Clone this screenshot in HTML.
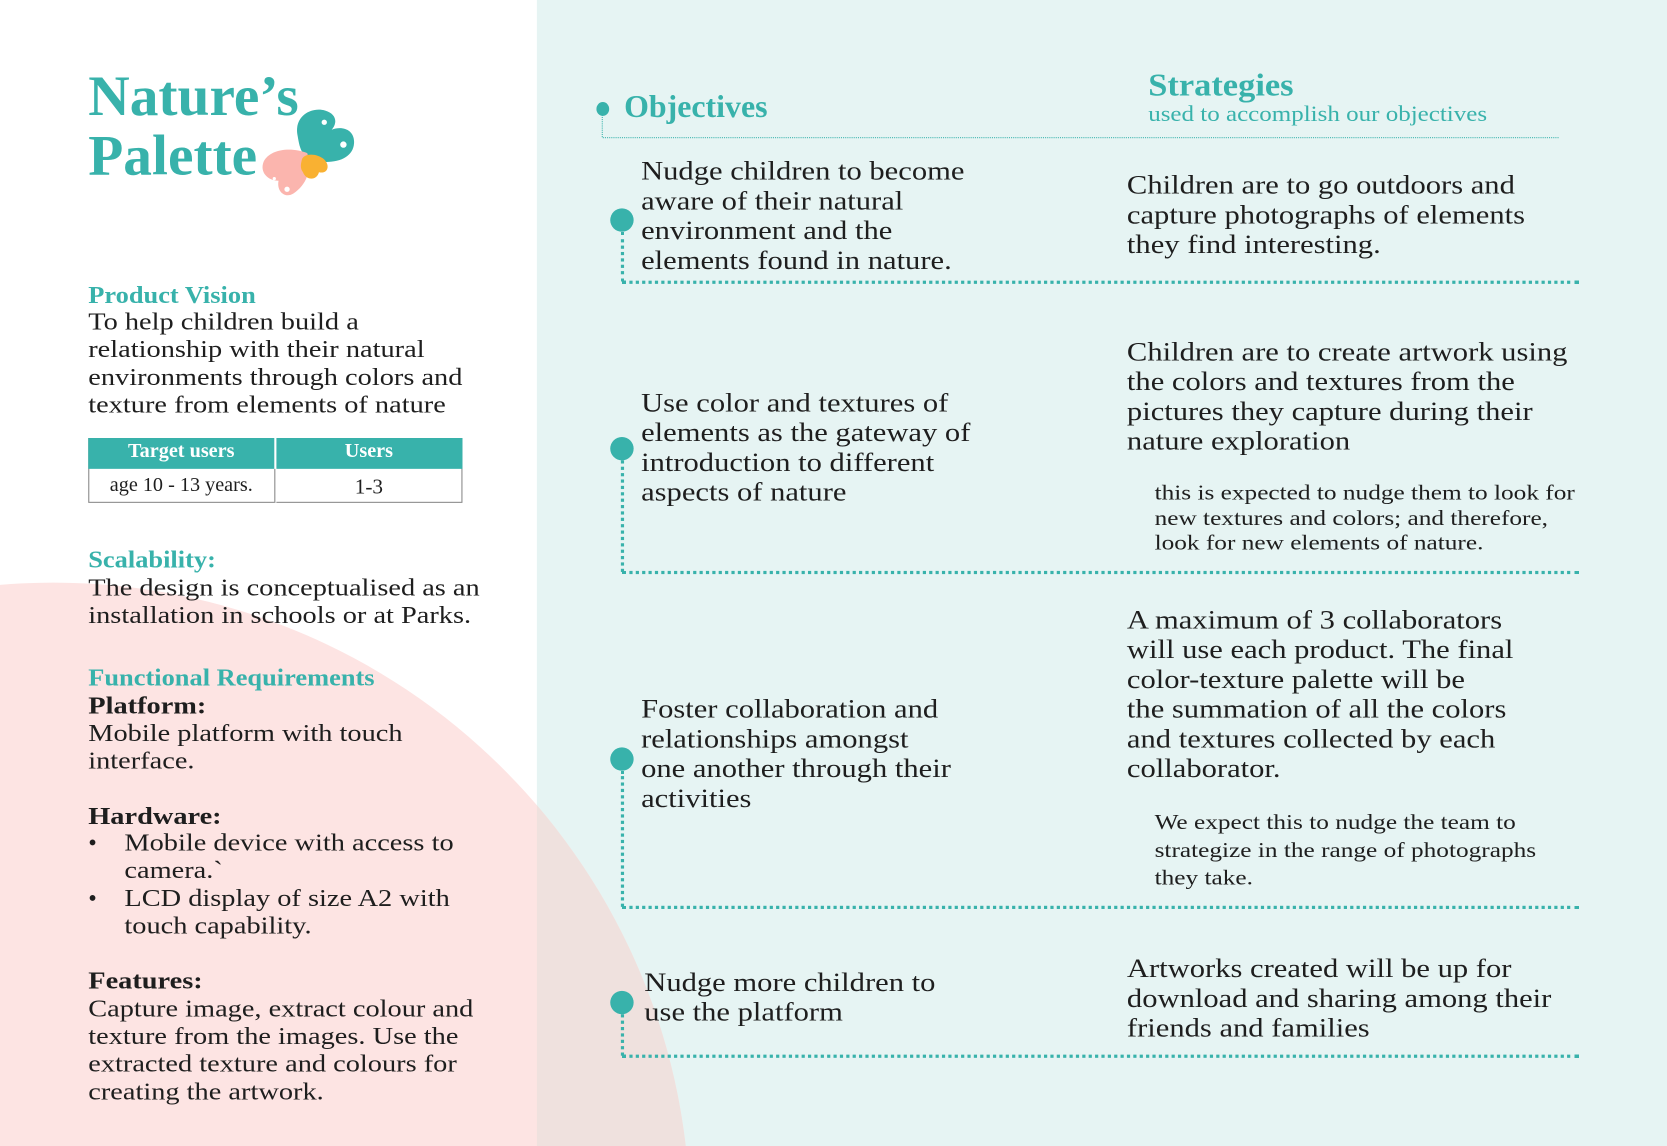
<!DOCTYPE html>
<html><head><meta charset="utf-8"><style>
html,body{margin:0;padding:0;width:1667px;height:1146px;overflow:hidden;background:#fff}
#outer{position:relative;width:1667px;height:1146px;overflow:hidden}
#w{position:absolute;left:0;top:0;width:1568px;height:1078px;transform:scale(1.06314);transform-origin:0 0;overflow:hidden;font-family:"Liberation Serif",serif;color:#1e1e1e}
.t{position:absolute;white-space:nowrap;transform-origin:0 0}
.h{color:#38b2ab;font-weight:bold}
.b{font-size:23px;line-height:26px;transform:scaleX(1.16)}
.o{font-size:25px;line-height:28px;transform:scaleX(1.15)}
.n{font-size:20px;line-height:23.5px;transform:scaleX(1.19)}
.dv{position:absolute;border-left:3px dotted #38b2ab;width:0}
.dh{position:absolute;border-top:3px dotted #38b2ab;height:0}
.dot{position:absolute;width:22px;height:22px;border-radius:50%;background:#38b2ab}
</style></head><body><div id="outer"><div id="w">
<svg width="1568" height="1078" style="position:absolute;left:0;top:0">
<defs><clipPath id="c"><rect x="505" y="0" width="1063" height="1078"/></clipPath></defs>
<rect x="505" y="0" width="1063" height="1078" fill="#e6f4f3"/>
<circle cx="50" cy="1147" r="599" fill="#fde4e3"/>
<circle cx="50" cy="1147" r="599" fill="#efe1de" clip-path="url(#c)"/>
<path d="M280,128 C276,110 292,100 306,104 C316,107 318,115 312,122 C322,118 334,122 333,135 C332,148 318,154 300,152 C284,150 282,140 280,128Z" fill="#38b2ab"/>
<path d="M289,144 C274,138 254,140 248,152 C244,162 252,170 262,170 C260,180 268,187 276,182 C288,174 294,160 289,144Z" fill="#fbb5ae"/>
<path d="M284,150 C286,144 298,144 305,150 C311,156 308,164 300,162 C298,170 288,170 285,162 C282,158 283,154 284,150Z" fill="#f9b132"/>
<circle cx="323" cy="136" r="3" fill="#fff"/><circle cx="305" cy="115" r="2.5" fill="#fff"/><circle cx="270" cy="178" r="2.5" fill="#fff"/><circle cx="258" cy="168" r="1.5" fill="#fff"/>
</svg>

<div class="t h" style="left:83px;top:62px;font-size:54px;line-height:56px;font-weight:bold">Nature’s<br>Palette</div>

<div class="t h" style="left:83px;top:265px;font-size:23px;transform:scaleX(1.08)">Product Vision</div>
<div class="t b" style="left:83px;top:290px">To help children build a<br>relationship with their natural<br>environments through colors and<br>texture from elements of nature</div>

<div style="position:absolute;left:83px;top:412px;width:352px;height:61px;border:1px solid #888;box-sizing:border-box;background:#fff"></div>
<div style="position:absolute;left:83px;top:412px;width:352px;height:29px;background:#38b2ab"></div>
<div style="position:absolute;left:258px;top:412px;width:2px;height:61px;background:#fff"></div>
<div style="position:absolute;left:258px;top:441px;width:1px;height:32px;background:#888"></div>
<div class="t" style="left:83px;top:414px;width:175px;text-align:center;color:#fff;font-weight:bold;font-size:19px">Target users</div>
<div class="t" style="left:259px;top:414px;width:176px;text-align:center;color:#fff;font-weight:bold;font-size:19px">Users</div>
<div class="t" style="left:83px;top:446px;width:175px;text-align:center;font-size:19px">age 10 - 13 years.</div>
<div class="t" style="left:259px;top:447px;width:176px;text-align:center;font-size:20px">1-3</div>

<div class="t h" style="left:83px;top:514px;font-size:23px;transform:scaleX(1.08)">Scalability:</div>
<div class="t b" style="left:83px;top:540px">The design is conceptualised as an<br>installation in schools or at Parks.</div>

<div class="t h" style="left:83px;top:625px;font-size:23px;transform:scaleX(1.08)">Functional Requirements</div>
<div class="t b" style="left:83px;top:651px"><b>Platform:</b><br>Mobile platform with touch<br>interface.<br><br><b>Hardware:</b></div>
<div class="t" style="left:83px;top:780px;font-size:23px;line-height:26px">•<br><br>•</div>
<div class="t b" style="left:117px;top:780px">Mobile device with access to<br>camera.`<br>LCD display of size A2 with<br>touch capability.</div>
<div class="t b" style="left:83px;top:910px"><b>Features:</b><br>Capture image, extract colour and<br>texture from the images. Use the<br>extracted texture and colours for<br>creating the artwork.</div>

<div class="dot" style="left:561px;top:96px;width:12px;height:13px"></div>
<div style="position:absolute;left:566px;top:108px;height:21px;border-left:1px dotted #38b2ab"></div>
<div style="position:absolute;left:567px;top:129px;width:899px;border-top:1px dotted #38b2ab"></div>
<div class="t h" style="left:587px;top:84px;font-size:30px">Objectives</div>
<div class="t h" style="left:1080px;top:64px;font-size:30px;transform:scaleX(1.08)">Strategies</div>
<div class="t" style="left:1080px;top:95px;font-size:21px;color:#38b2ab;transform:scaleX(1.12)">used to accomplish our objectives</div>

<div class="dot" style="left:574px;top:196px"></div>
<div class="dv" style="left:584px;top:218px;height:47px"></div>
<div class="dh" style="left:585px;top:264px;width:900px"></div>
<div class="t o" style="left:603px;top:148px">Nudge children to become<br>aware of their natural<br>environment and the<br>elements found in nature.</div>
<div class="t o" style="left:1060px;top:161px">Children are to go outdoors and<br>capture photographs of elements<br>they find interesting.</div>

<div class="dot" style="left:574px;top:411px"></div>
<div class="dv" style="left:584px;top:433px;height:105px"></div>
<div class="dh" style="left:585px;top:537px;width:900px"></div>
<div class="t o" style="left:603px;top:366px">Use color and textures of<br>elements as the gateway of<br>introduction to different<br>aspects of nature</div>
<div class="t o" style="left:1060px;top:318px">Children are to create artwork using<br>the colors and textures from the<br>pictures they capture during their<br>nature exploration</div>
<div class="t n" style="left:1086px;top:453px">this is expected to nudge them to look for<br>new textures and colors; and therefore,<br>look for new elements of nature.</div>

<div class="dot" style="left:574px;top:703px"></div>
<div class="dv" style="left:584px;top:725px;height:128px"></div>
<div class="dh" style="left:585px;top:852px;width:900px"></div>
<div class="t o" style="left:603px;top:654px">Foster collaboration and<br>relationships amongst<br>one another through their<br>activities</div>
<div class="t o" style="left:1060px;top:570px">A maximum of 3 collaborators<br>will use each product. The final<br>color-texture palette will be<br>the summation of all the colors<br>and textures collected by each<br>collaborator.</div>
<div class="t n" style="left:1086px;top:761px;line-height:26px">We expect this to nudge the team to<br>strategize in the range of photographs<br>they take.</div>

<div class="dot" style="left:574px;top:932px"></div>
<div class="dv" style="left:584px;top:954px;height:39px"></div>
<div class="dh" style="left:585px;top:992px;width:900px"></div>
<div class="t o" style="left:606px;top:911px">Nudge more children to<br>use the platform</div>
<div class="t o" style="left:1060px;top:898px">Artworks created will be up for<br>download and sharing among their<br>friends and families</div>
</div></div></body></html>
